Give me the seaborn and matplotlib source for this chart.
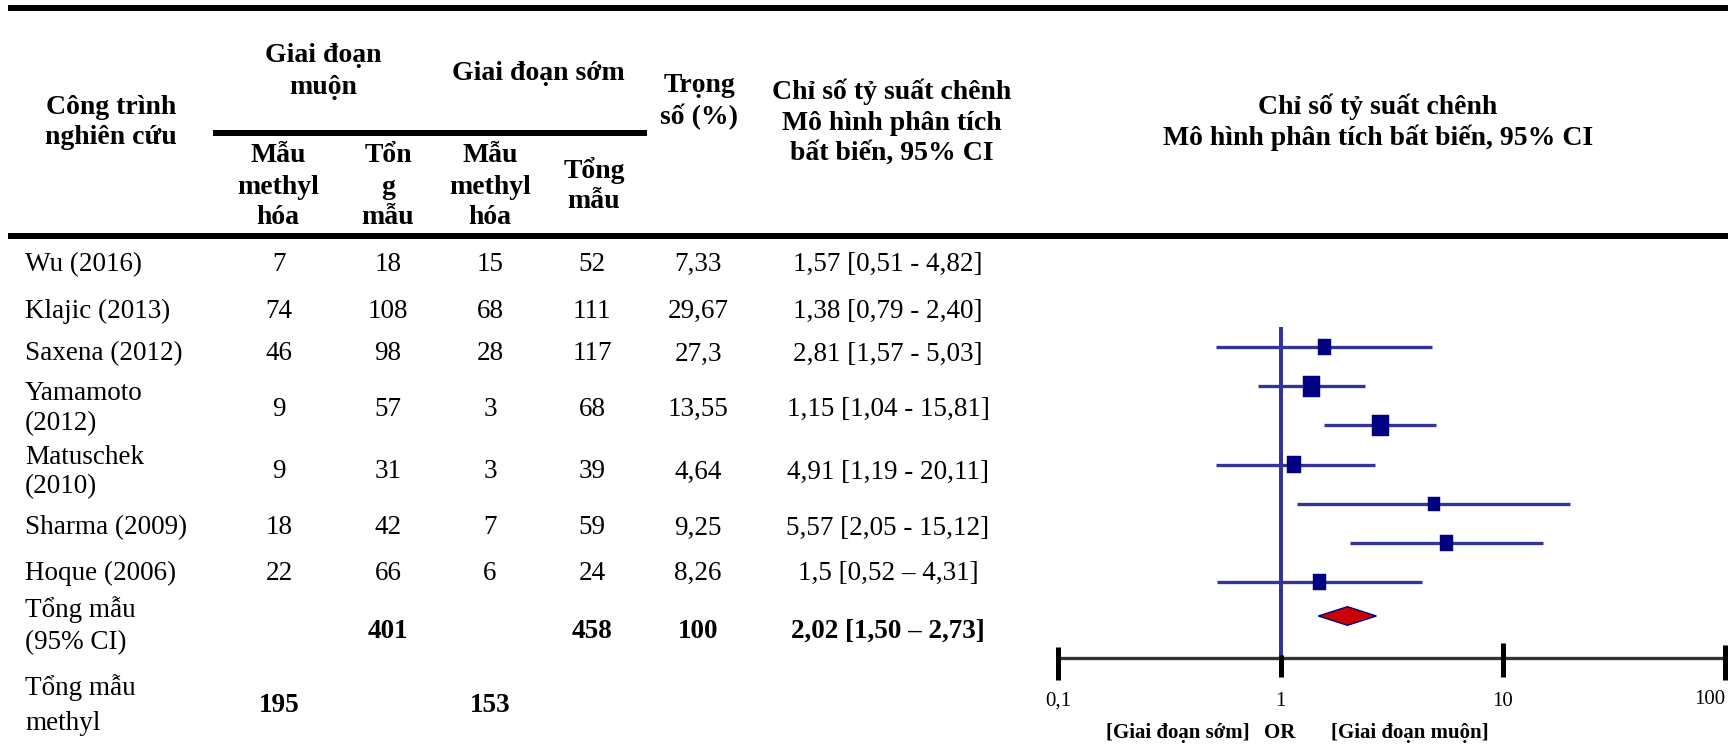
import numpy as np
import pandas as pd
import matplotlib
matplotlib.use("Agg")
import matplotlib.pyplot as plt
from matplotlib.markers import MarkerStyle
import seaborn as sns

# ---------------- data ----------------
study_names = [["Wu (2016)"], ["Klajic (2013)"], ["Saxena (2012)"], ["Yamamoto", "(2012)"],
               ["Matuschek", "(2010)"], ["Sharma (2009)"], ["Hoque (2006)"]]
late_methyl = [7, 74, 46, 9, 9, 18, 22]
late_total = [18, 108, 98, 57, 31, 42, 66]
early_methyl = [15, 68, 28, 3, 3, 7, 6]
early_total = [52, 111, 117, 68, 39, 59, 24]
weight_text = ["7,33", "29,67", "27,3", "13,55", "4,64", "9,25", "8,26"]
or_text = ["1,57 [0,51 - 4,82]", "1,38 [0,79 - 2,40]", "2,81 [1,57 - 5,03]",
           "1,15 [1,04 - 15,81]", "4,91 [1,19 - 20,11]", "5,57 [2,05 - 15,12]",
           "1,5 [0,52 – 4,31]"]
weights = [7.33, 29.67, 27.3, 13.55, 4.64, 9.25, 8.26]
odds_ratio = [1.57, 1.38, 2.81, 1.15, 4.91, 5.57, 1.50]
ci_low = [0.51, 0.79, 1.57, 0.51, 1.19, 2.05, 0.52]
ci_high = [4.82, 2.40, 5.03, 2.65, 20.11, 15.12, 4.31]

pooled_label = ["Tổng mẫu", "(95% CI)"]
pooled_late_total = "401"
pooled_early_total = "458"
pooled_weight = "100"
pooled_or_text = "2,02 [1,50 – 2,73]"
pooled_or, pooled_low, pooled_high = 2.0, 1.48, 2.70

methyl_label = ["Tổng mẫu", "methyl"]
methyl_late = "195"
methyl_early = "153"

axis_ticks = [0.1, 1, 10, 100]
axis_tick_labels = ["0,1", "1", "10", "100"]
bottom_labels = ["[Giai đoạn sớm]", "OR", "[Giai đoạn muộn]"]

header_study = ["Công trình", "nghiên cứu"]
header_late = ["Giai đoạn", "muộn"]
header_early = ["Giai đoạn sớm"]
header_weight = ["Trọng", "số (%)"]
header_or = ["Chỉ số tỷ suất chênh", "Mô hình phân tích", "bất biến, 95% CI"]
header_plot = ["Chỉ số tỷ suất chênh", "Mô hình phân tích bất biến, 95% CI"]
sub_headers = [["Mẫu", "methyl", "hóa"], ["Tổn", "g", "mẫu"], ["Mẫu", "methyl", "hóa"], ["Tổng", "mẫu"]]

# ---------------- style ----------------
sns.set_theme(style="white")
plt.rcParams["font.family"] = ["Liberation Serif", "DejaVu Serif"]
plt.rcParams["text.color"] = "black"

W, H = 1728, 747
PT = 0.72  # points per pixel at dpi 100
BODY = 19.5
HEAD = 20
BLUE = "#333399"
NAVY = "#000080"

fig = plt.figure(figsize=(W / 100, H / 100), dpi=100)
fig.patch.set_facecolor("white")

axT = fig.add_axes([0, 0, 1, 1])
axT.set_xlim(0, W)
axT.set_ylim(H, 0)
axT.axis("off")


def txt(x, y, s, bold=False, size=BODY, ha="center"):
    axT.text(x, y, s, ha=ha, va="center", fontsize=size,
             fontweight="bold" if bold else "normal")


# rules
axT.hlines([8, 235.7], 8, W, color="black", lw=6 * PT)
axT.hlines(133, 213, 647, color="black", lw=6 * PT)

# headers
for s, y in zip(header_study, [108, 138]):
    txt(111, y, s, bold=True, size=HEAD)
for s, y in zip(header_late, [56, 88]):
    txt(323, y, s, bold=True, size=HEAD)
txt(538, 73, header_early[0], bold=True, size=HEAD)
for s, y in zip(header_weight, [85, 117]):
    txt(699, y, s, bold=True, size=HEAD)
for s, y in zip(header_or, [92, 123, 153]):
    txt(892, y, s, bold=True, size=HEAD)
for s, y in zip(header_plot, [107, 138]):
    txt(1378, y, s, bold=True, size=HEAD)

sub_x = [278, 388, 490, 594]
for cx, lines in zip(sub_x, sub_headers):
    ys = [156, 187, 217] if len(lines) == 3 else [170, 201]
    for s, y in zip(lines, ys):
        txt(cx, y, s, bold=True, size=HEAD)

# body
col_x = [279, 388, 490, 592, 698, 888]
row_y = [264.5, 311, 354, 409, 472, 528, 573]
for i, yc in enumerate(row_y):
    names = study_names[i]
    if len(names) == 1:
        txt(25, yc, names[0], ha="left")
    else:
        txt(25, yc - 15, names[0], ha="left")
        txt(25, yc + 15, names[1], ha="left")
    vals = [str(late_methyl[i]), str(late_total[i]), str(early_methyl[i]),
            str(early_total[i]), weight_text[i], or_text[i]]
    for cx, v in zip(col_x, vals):
        txt(cx, yc, v)

# pooled row
txt(25, 610, pooled_label[0], ha="left")
txt(25, 643, pooled_label[1], ha="left")
for cx, v in zip([col_x[1], col_x[3], col_x[4], col_x[5]],
                 [pooled_late_total, pooled_early_total, pooled_weight, pooled_or_text]):
    txt(cx, 631.5, v, bold=True)

# methyl totals row
txt(25, 688, methyl_label[0], ha="left")
txt(25, 723, methyl_label[1], ha="left")
txt(col_x[0], 706, methyl_late, bold=True)
txt(col_x[2], 706, methyl_early, bold=True)

# ---------------- forest plot ----------------
x_left, x_right = 1058.3, 1725.0
y_top, y_bot = 300.0, 700.0
axF = fig.add_axes([x_left / W, 1 - y_bot / H, (x_right - x_left) / W, (y_bot - y_top) / H])
axF.set_xscale("log")
axF.set_xlim(0.1, 100)
axF.set_ylim(y_bot, y_top)
axF.axis("off")

row_pos = 347 + 39.2 * np.arange(len(odds_ratio))
pooled_pos = 616
axis_pos = 657.7

df = pd.DataFrame({"or": odds_ratio, "y": row_pos, "w": weights})

# reference line at OR = 1
axF.vlines(1, 327, axis_pos, color=BLUE, lw=4 * PT, zorder=2, clip_on=False)
# CI lines
axF.hlines(df["y"], ci_low, ci_high, color=BLUE, lw=3.3 * PT, zorder=3, clip_on=False)
# squares
rect = MarkerStyle(np.array([[-0.42, -0.5], [0.42, -0.5], [0.42, 0.5], [-0.42, 0.5], [-0.42, -0.5]]))
sns.scatterplot(data=df, x="or", y="y", size="w", sizes=(110, 225), marker=rect,
                color=NAVY, edgecolor=NAVY, linewidth=0.3, legend=False, ax=axF, zorder=4,
                clip_on=False)
axF.set_xlabel("")
axF.set_ylabel("")

# pooled diamond
hh = 9.3
axF.fill([pooled_low, pooled_or, pooled_high, pooled_or],
         [pooled_pos, pooled_pos - hh, pooled_pos, pooled_pos + hh],
         facecolor="#CC0000", edgecolor=NAVY, lw=1.0, zorder=5, clip_on=False)

# axis
axF.hlines(axis_pos, 0.1, 100, color="#333333", lw=3.3 * PT, zorder=2, clip_on=False)
tick_top = [647, 655, 643, 645]
tick_bot = [680, 677, 677, 680]
for t, a, b in zip(axis_ticks, tick_top, tick_bot):
    axF.vlines(t, a, b, color="black", lw=5 * PT, zorder=3, clip_on=False)
for t, lab in zip(axis_ticks, axis_tick_labels):
    if t == axis_ticks[-1]:
        axF.text(t, 700, lab, ha="right", va="center", fontsize=15, clip_on=False)
    else:
        axF.text(t, 701, lab, ha="center", va="center", fontsize=15, clip_on=False)

axT.text(1177.5, 733, bottom_labels[0], ha="center", va="center", fontsize=15, fontweight="bold")
axT.text(1279.5, 733, bottom_labels[1], ha="center", va="center", fontsize=15, fontweight="bold")
axT.text(1410, 733, bottom_labels[2], ha="center", va="center", fontsize=15, fontweight="bold")

fig.savefig("out.png", dpi=100, facecolor="white")
